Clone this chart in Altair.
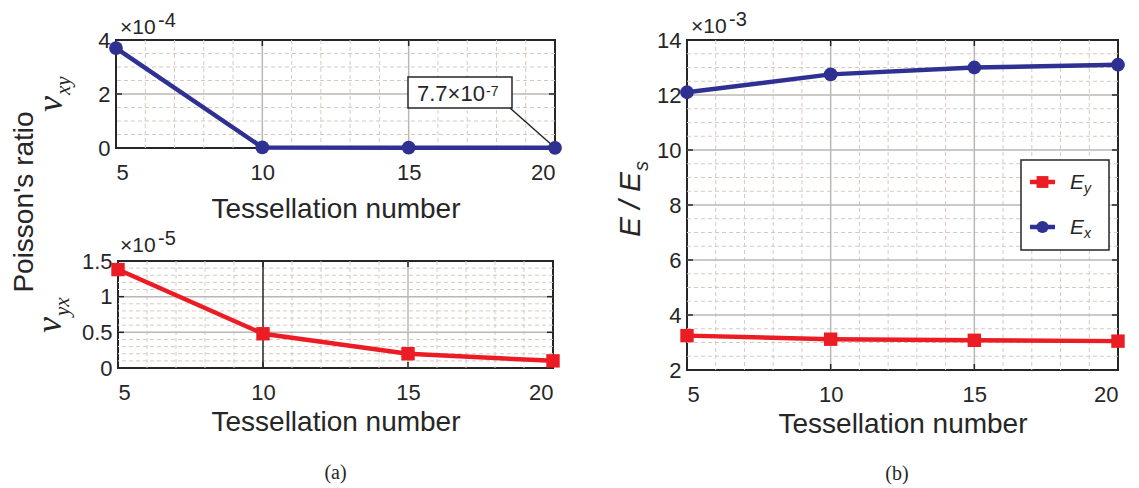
import altair as alt
import pandas as pd

# ---------------------------------------------------------------- data
tess = [5, 10, 15, 20]

# Poisson's ratios
nu_xy = [3.7e-4, 2.1e-6, 1.2e-6, 7.7e-7]
nu_yx = [1.38e-5, 0.48e-5, 0.20e-5, 0.10e-5]

# Normalised Young's moduli E / Es
E_y = [3.25e-3, 3.12e-3, 3.08e-3, 3.05e-3]
E_x = [12.10e-3, 12.75e-3, 13.00e-3, 13.10e-3]

# ticks (major / minor)
x_ticks = [5, 10, 15, 20]
x_minor = [6, 7, 8, 9, 11, 12, 13, 14, 16, 17, 18, 19]
xy_ticks = [0, 2e-4, 4e-4]
xy_minor = [0.5e-4, 1.0e-4, 1.5e-4, 2.5e-4, 3.0e-4, 3.5e-4]
yx_ticks = [0, 0.5e-5, 1.0e-5, 1.5e-5]
yx_minor = [k * 1e-6 for k in (1, 2, 3, 4, 6, 7, 8, 9, 11, 12, 13, 14)]
E_ticks = [k * 1e-3 for k in (2, 4, 6, 8, 10, 12, 14)]
E_minor = [k * 1e-3 for k in (2.5, 3, 3.5, 4.5, 5, 5.5, 6.5, 7, 7.5, 8.5, 9, 9.5,
                              10.5, 11, 11.5, 12.5, 13, 13.5)]
xy_exp, yx_exp, E_exp = -4, -5, -3

legend_names = [("E", "y"), ("E", "x")]

# ---------------------------------------------------------------- style
SANS = "Liberation Sans"
SERIF = "Liberation Serif"
INK = "#262626"
BLUE = "#2e3192"
RED = "#ec1c24"
GRID = "#bcb7b3"
MINOR = "#d6cac0"
TICK_LEN = 6


def scales(ydom):
    return (alt.Scale(domain=[5, 20], nice=False, zero=False),
            alt.Scale(domain=ydom, nice=False, zero=False))


def x_axis(title_pad):
    return alt.Axis(values=x_ticks, tickCount=20, title="Tessellation number",
                    titlePadding=title_pad, labelOverlap=False, labelPadding=14,
                    grid=False, ticks=False, domain=False)


def y_axis(ticks, exp):
    # tick values are shown in units of 10^exp (the multiplier is drawn above the axis)
    scale = 10 ** (-exp)
    return alt.Axis(values=ticks, tickCount=20, title=None, labelOverlap=False,
                    labelPadding=6, grid=False, ticks=False, domain=False,
                    labelExpr=f"format(round(datum.value * {scale} * 100) / 100, '~g')")


def text(t, x, y, size, font=SANS, **kw):
    return alt.Chart(pd.DataFrame({"t": [t]})).mark_text(
        font=font, fontSize=size, color=INK, baseline="alphabetic",
        align=kw.pop("align", "left"), **kw
    ).encode(x=alt.value(x), y=alt.value(y), text="t:N")


def axes_carrier(xs, ys, values, title_pad, ticks, exp):
    # invisible layer that owns the axes of a panel
    df = pd.DataFrame({"x": tess, "y": values})
    return alt.Chart(df).mark_line(opacity=0).encode(
        x=alt.X("x:Q", scale=xs, axis=x_axis(title_pad)),
        y=alt.Y("y:Q", scale=ys, axis=y_axis(ticks, exp)))


def grid_layers(W, H, xs, ys, y_major, y_minor, dark_x=()):
    X = lambda: alt.X("x:Q", scale=xs)
    Y = lambda: alt.Y("y:Q", scale=ys)
    inner_x = [v for v in x_ticks if v not in (5, 20)]
    inner_y = y_major[1:-1]
    dx = pd.DataFrame({"x": inner_x})
    dy = pd.DataFrame({"y": inner_y})
    layers = [
        alt.Chart(pd.DataFrame({"x": x_minor})).mark_rule(
            color=MINOR, strokeDash=[4, 3], strokeWidth=1).encode(x=X()),
        alt.Chart(pd.DataFrame({"y": y_minor})).mark_rule(
            color=MINOR, strokeDash=[4, 3], strokeWidth=1).encode(y=Y()),
        alt.Chart(pd.DataFrame({"x": [v for v in inner_x if v not in dark_x]})).mark_rule(
            color=GRID, strokeWidth=1.5).encode(x=X()),
        alt.Chart(dy).mark_rule(color=GRID, strokeWidth=1.5).encode(y=Y()),
        # inward tick marks on all four sides of the box
        alt.Chart(dx).mark_rule(color=INK, strokeWidth=1.5).encode(
            x=X(), y=alt.value(0), y2=alt.value(TICK_LEN)),
        alt.Chart(dx).mark_rule(color=INK, strokeWidth=1.5).encode(
            x=X(), y=alt.value(H - TICK_LEN), y2=alt.value(H)),
        alt.Chart(dy).mark_rule(color=INK, strokeWidth=1.5).encode(
            y=Y(), x=alt.value(0), x2=alt.value(TICK_LEN)),
        alt.Chart(dy).mark_rule(color=INK, strokeWidth=1.5).encode(
            y=Y(), x=alt.value(W - TICK_LEN), x2=alt.value(W)),
    ]
    if dark_x:
        layers.append(alt.Chart(pd.DataFrame({"x": list(dark_x)})).mark_rule(
            color=INK, strokeWidth=1.5).encode(x=X()))
    return layers


def series(xs, ys, values, color, shape, size):
    df = pd.DataFrame({"x": tess, "y": values})
    enc = dict(x=alt.X("x:Q", scale=xs), y=alt.Y("y:Q", scale=ys))
    line = alt.Chart(df).mark_line(color=color, strokeWidth=4.5).encode(**enc)
    pts = alt.Chart(df).mark_point(shape=shape, filled=True, size=size, color=color,
                                   opacity=1).encode(**enc)
    return [line, pts]


def exponent(exp, x, y):
    return [text("\u00d710", x, y, 21), text(str(exp), x + 38, y - 7, 20)]


# ---------------------------------------------------------------- top-left: nu_xy
W1, H1 = 439, 108
xs1, ys1 = scales([0, 4e-4])
mant, e7 = f"{nu_xy[-1]:.1e}".split("e")
last = pd.DataFrame({"x": [tess[-1]], "y": [nu_xy[-1]]})
leader = alt.Chart(last).mark_rule(color=INK, strokeWidth=1.5).encode(
    x=alt.X("x:Q", scale=xs1), y=alt.Y("y:Q", scale=ys1),
    x2=alt.value(394), y2=alt.value(68))
box = alt.Chart(pd.DataFrame({"t": [0]})).mark_rect(
    fill="white", stroke=INK, strokeWidth=1.5).encode(
    x=alt.value(292), x2=alt.value(396), y=alt.value(37), y2=alt.value(68))

top = alt.layer(
    axes_carrier(xs1, ys1, nu_xy, 12, xy_ticks, xy_exp),
    *grid_layers(W1, H1, xs1, ys1, xy_ticks, xy_minor),
    leader, box,
    text(f"{mant}\u00d710", 301, 61, 22),
    text(str(int(e7)), 370, 56, 14),
    *series(xs1, ys1, nu_xy, BLUE, "circle", 190),
    *exponent(xy_exp, 4, -6),
    text("\u03bd", -54, 72, 36, font=SERIF, fontStyle="italic", angle=270),
    text("xy", -46, 55, 21, font=SERIF, fontStyle="italic", angle=270),
    text("Poisson's ratio", -83, 162, 28, align="center", angle=270),
).properties(width=W1, height=H1)

# ---------------------------------------------------------------- bottom-left: nu_yx
W2, H2 = 435, 107
xs2, ys2 = scales([0, 1.5e-5])
bottom = alt.layer(
    axes_carrier(xs2, ys2, nu_yx, 5, yx_ticks, yx_exp),
    *grid_layers(W2, H2, xs2, ys2, yx_ticks, yx_minor, dark_x=(10,)),
    *series(xs2, ys2, nu_yx, RED, "square", 180),
    *exponent(yx_exp, 2, -9),
    text("\u03bd", -57, 72, 36, font=SERIF, fontStyle="italic", angle=270),
    text("yx", -49, 55, 21, font=SERIF, fontStyle="italic", angle=270),
    text("(a)", W2 / 2, 218, 20, font=SERIF, align="center"),
).properties(width=W2, height=H2)

# ---------------------------------------------------------------- right: E / Es
W3, H3 = 431, 330
xs3, ys3 = scales([2e-3, 14e-3])
legend_box = alt.Chart(pd.DataFrame({"t": [0]})).mark_rect(
    fill="white", stroke=INK, strokeWidth=1.5).encode(
    x=alt.value(334), x2=alt.value(422), y=alt.value(120), y2=alt.value(210))


def legend_entry(name, color, shape, size, y):
    main, sub = name
    return [
        alt.Chart(pd.DataFrame({"t": [0]})).mark_rule(color=color, strokeWidth=4.5).encode(
            x=alt.value(343), x2=alt.value(368), y=alt.value(y)),
        alt.Chart(pd.DataFrame({"t": [0]})).mark_point(
            shape=shape, filled=True, size=size, color=color, opacity=1).encode(
            x=alt.value(355.5), y=alt.value(y)),
        text(main, 383, y + 7, 21, fontStyle="italic"),
        text(sub, 397, y + 11, 14, fontStyle="italic"),
    ]


right = alt.layer(
    axes_carrier(xs3, ys3, E_y, 5, E_ticks, E_exp),
    *grid_layers(W3, H3, xs3, ys3, E_ticks, E_minor),
    *series(xs3, ys3, E_y, RED, "square", 180),
    *series(xs3, ys3, E_x, BLUE, "circle", 190),
    legend_box,
    *legend_entry(legend_names[0], RED, "square", 140, 142),
    *legend_entry(legend_names[1], BLUE, "circle", 150, 187),
    *exponent(E_exp, 4, -7),
    text("E / E", -47, 132, 30, fontStyle="italic", align="right", angle=270),
    text("s", -39, 131, 20, fontStyle="italic", angle=270),
    text("(b)", 210, 440, 20, font=SERIF, align="center"),
).properties(width=W3, height=H3)

left = alt.vconcat(top, bottom, spacing=113, bounds="flush", center=True)

chart = alt.hconcat(left, right, spacing=50).properties(
    padding={"left": 10, "top": 9, "right": 0, "bottom": 0},
    background="white",
).configure_view(
    stroke=INK, strokeWidth=2
).configure_axis(
    labelFont=SANS, labelFontSize=22, labelColor=INK, labelOverlap=False,
    titleFont=SANS, titleFontSize=28, titleFontWeight="normal", titleColor=INK,
    domain=False, ticks=False, tickSize=0, grid=False,
)

chart.save("out.html", embed_options={"renderer": "svg", "actions": False})
